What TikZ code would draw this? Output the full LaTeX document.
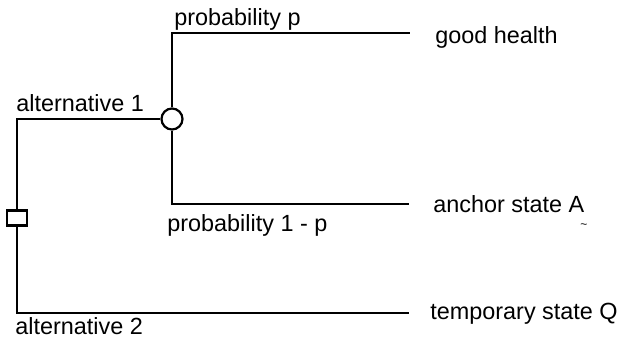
\documentclass[tikz,border=0pt]{standalone}
\usepackage{fontspec}
\setmainfont{Liberation Sans}
\begin{document}
\begin{tikzpicture}[x=0.5pt,y=-0.5pt,
  branch/.style={line width=1.1pt},
  decision/.style={draw,line width=1.1pt,fill=white,minimum width=10pt,minimum height=7.5pt,inner sep=0pt},
  chance/.style={draw,circle,line width=1.1pt,fill=white,minimum size=10.5pt,inner sep=0pt},
  lbl/.style={anchor=base west,inner sep=0pt,font=\fontsize{11.7}{14}\selectfont}]
\useasboundingbox (0,0) rectangle (623,349);
% end points
\coordinate (eG) at (410,33);
\coordinate (eA) at (409,204);
\coordinate (eQ) at (409,313);
% connectors
\node[decision] (sq) at (17,218) {};
\node[chance] (ch) at (172,119) {};
\draw[branch] (sq.north) |- (ch.west);
\draw[branch] (sq.south) |- (eQ);
\draw[branch] (ch.north) |- (eG);
\draw[branch] (ch.south) |- (eA);
% labels
\node[lbl] (a1) at (16,111) {alternative 1};
\node[lbl] (a2) at (15,334) {alternative 2};
\node[lbl] (pp) at (174,25) {probability p};
\node[lbl] (p1) at (167,231) {probability 1 - p};
\node[lbl] (gh) at (435,43) {good health};
\node[lbl] (as) at (433,212) {anchor state A};
\node[lbl] (tq) at (430,319) {temporary state Q};
\node[inner sep=0pt,font=\fontsize{6}{7}\selectfont] (tl) at (584,226) {\textasciitilde};
\end{tikzpicture}
\end{document}
